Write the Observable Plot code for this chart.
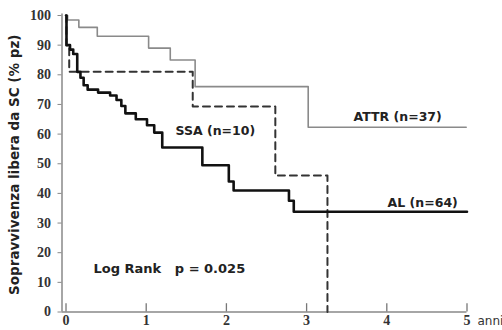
<!DOCTYPE html>
<html><head><meta charset="utf-8">
<script src="https://cdn.jsdelivr.net/npm/d3@7"></script>
<script src="https://cdn.jsdelivr.net/npm/@observablehq/plot@0.6"></script>
<style>body{margin:0;background:#fff} svg{display:block}</style>
</head><body><div id="chart"></div>
<script>
// Kaplan-Meier curves (years, % survival)
const attrYears = [0, 0.02, 0.16, 0.39, 1.03, 1.30, 1.61, 3.02, 4.99];
const attrSurv  = [100, 98.5, 96, 93, 89, 85, 76, 62.3, 62.3];
const alYears = [0, 0.006, 0.05, 0.09, 0.14, 0.18, 0.22, 0.27, 0.40, 0.55, 0.63, 0.69, 0.74, 0.87, 1.01, 1.10, 1.20, 1.70, 2.03, 2.09, 2.78, 2.84, 5.0];
const alSurv  = [100, 90, 88.5, 87, 81, 79, 76.5, 75, 74, 73, 71.5, 69.5, 67, 65, 63, 60.5, 55.5, 49.5, 44, 41, 37.5, 33.8, 33.8];
const ssaYears = [0, 0.005, 0.04, 1.58, 2.61, 3.26];
const ssaSurv  = [100, 90, 81, 69.3, 46, 0];
const xTicks = [0, 1, 2, 3, 4, 5];
const yTicks = [0, 10, 20, 30, 40, 50, 60, 70, 80, 90, 100];
const yTitle = "Sopravvivenza libera da SC (% pz)";
const xUnit = "anni";
const seriesLabels = ["ATTR (n=37)", "SSA (n=10)", "AL (n=64)"];
const statText = "Log Rank\u00a0\u00a0\u00a0p = 0.025";

const toRows = (xs, ys) => xs.map((x, i) => ({x, y: ys[i]}));
const attr = toRows(attrYears, attrSurv);
const al = toRows(alYears, alSurv);
const ssa = toRows(ssaYears, ssaSurv);

const sans = "DejaVu Sans";
const serif = "Liberation Serif";

const chart = Plot.plot({
  width: 502, height: 330,
  marginLeft: 61.5, marginRight: 35.5, marginTop: 15, marginBottom: 18.5,
  style: {fontFamily: sans, fontSize: "13px", color: "#222", background: "#fff"},
  x: {domain: [-0.05, 5]},
  y: {domain: [0, 100]},
  marks: [
    Plot.ruleX([-0.05], {y1: 0, y2: 100.5, stroke: "#888", strokeWidth: 1.5}),
    Plot.ruleY([0], {x1: -0.05, x2: 5, stroke: "#888", strokeWidth: 1.5}),
    Plot.ruleX(xTicks, {y1: 0, y2: 2.8, stroke: "#777", strokeWidth: 1.3}),
    Plot.axisY({ticks: yTicks, tickSize: 4, tickPadding: 7, stroke: "#888", label: null,
      fontFamily: serif, fontWeight: "bold", fontSize: 14, fill: "#333"}),
    Plot.axisX({ticks: xTicks, tickSize: 0, tickPadding: 3, label: null, tickFormat: d => String(d),
      fontFamily: serif, fontWeight: "bold", fontSize: 14, fill: "#333"}),
    Plot.line(attr, {x: "x", y: "y", curve: "step-after", stroke: "#8a8a8a", strokeWidth: 1.6}),
    Plot.line(ssa, {x: "x", y: "y", curve: "step-after", stroke: "#333", strokeWidth: 2, strokeDasharray: "7,5"}),
    Plot.line(al, {x: "x", y: "y", curve: "step-after", stroke: "#111", strokeWidth: 2.6}),
    Plot.text([seriesLabels[0]], {x: 3.585, y: 65.6, textAnchor: "start", fontWeight: "bold", fontSize: 12.5, fill: "#222"}),
    Plot.text([seriesLabels[1]], {x: 1.365, y: 60.9, textAnchor: "start", fontWeight: "bold", fontSize: 12.5, fill: "#222"}),
    Plot.text([seriesLabels[2]], {x: 4.01, y: 36.9, textAnchor: "start", fontWeight: "bold", fontSize: 12.5, fill: "#222"}),
    Plot.text([statText], {x: 0.343, y: 14.7, textAnchor: "start", fontWeight: "bold", fontSize: 13, fill: "#222"}),
    Plot.text([xUnit], {x: 5, y: 0, dx: 10.5, dy: 9.5, textAnchor: "start", fontSize: 12, fill: "#333"}),
    Plot.text([yTitle], {frameAnchor: "left", dx: -47.5, dy: 1, rotate: -90, textAnchor: "middle", fontWeight: "bold", fontSize: 13.5, fill: "#222"})
  ]
});
document.getElementById("chart").append(chart);
</script>
</body></html>
